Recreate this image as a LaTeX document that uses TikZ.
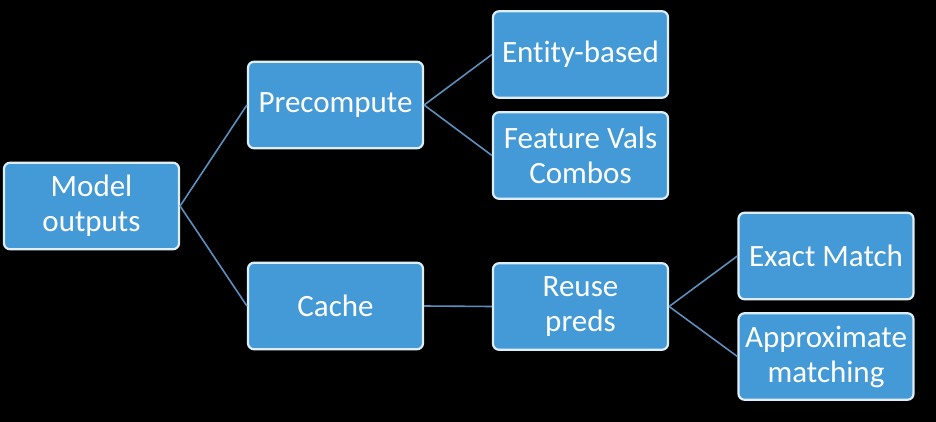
\documentclass[tikz,border=0pt]{standalone}
\usepackage{fontspec}
\setmainfont[Ligatures={NoCommon}]{Carlito}
\definecolor{boxfill}{RGB}{68,154,214}
\definecolor{boxedge}{RGB}{222,238,248}
\definecolor{linkcol}{RGB}{92,142,190}
\tikzset{
  box/.style={draw=boxedge, fill=boxfill, line width=2.2pt, rounded corners=6pt,
    minimum width=175pt, minimum height=86.5pt, inner sep=2pt, align=center,
    text=white, font=\fontsize{31}{35}\selectfont},
  link/.style={draw=linkcol, line width=1.6pt}
}
\begin{document}
\begin{tikzpicture}[x=1pt,y=-1pt]
\fill[black] (0,0) rectangle (936,422);
\useasboundingbox (0,0) rectangle (936,422);
\node[box] (mo) at (91.5,206) {Model\\outputs};
\node[box] (pre) at (335.5,105) {Precompute};
\node[box] (ent) at (580.5,54.5) {Entity-based};
\node[box] (feat) at (580.5,155.5) {Feature Vals\\Combos};
\node[box] (cache) at (335.5,306) {Cache};
\node[box] (reuse) at (580.5,306.5) {Reuse\\preds};
\node[box] (exact) at (826,256) {Exact Match};
\node[box] (approx) at (826,356.5) {Approximate\\matching};
\draw[link] (mo.east) -- (pre.west);
\draw[link] (mo.east) -- (cache.west);
\draw[link] (pre.east) -- (ent.west);
\draw[link] (pre.east) -- (feat.west);
\draw[link] (cache.east) -- (reuse.west);
\draw[link] (reuse.east) -- (exact.west);
\draw[link] (reuse.east) -- (approx.west);
\end{tikzpicture}
\end{document}
